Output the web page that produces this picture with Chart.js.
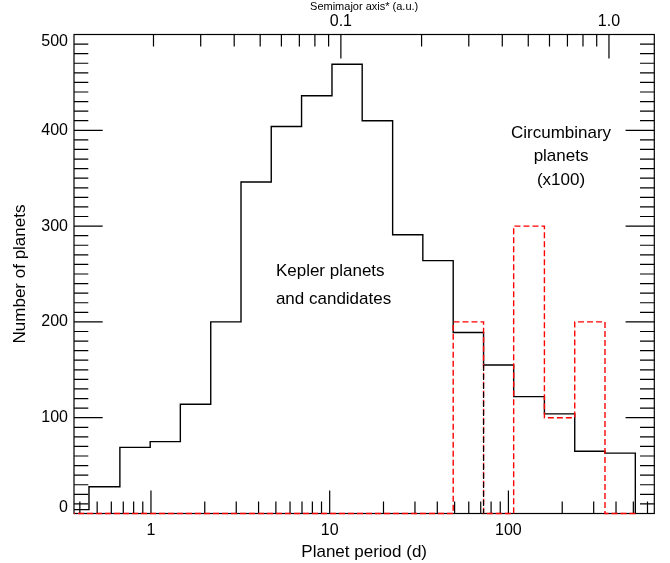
<!DOCTYPE html>
<html>
<head>
<meta charset="utf-8">
<script src="https://cdn.jsdelivr.net/npm/chart.js@4"></script>
<style>
  html, body { margin: 0; padding: 0; background: #fff; }
  #chart { display: block; }
</style>
</head>
<body>
<canvas id="chart" width="670" height="563"></canvas>
<script>
// histogram bin edges, planet period in days
const binEdges = [0.31, 0.45, 0.67, 0.99, 1.46, 2.16, 3.19, 4.71, 6.96, 10.3, 15.2, 22.5, 33.2, 49.1, 72.6, 107, 159, 235, 347, 513];
// one count per bin
const keplerCounts = [4, 28, 69, 75, 114, 200, 346, 404, 436, 469, 410, 291, 264, 189, 155, 122, 104, 65, 63];
const circumbinaryCounts = [0, 0, 0, 0, 0, 0, 0, 0, 0, 0, 0, 0, 0, 2, 0, 3, 1, 2, 0];
const circumbinaryScale = 100;

const periodTicks = [1, 10, 100];
const periodMinorTicks = [0.4, 0.5, 0.6, 0.7, 0.8, 0.9, 2, 3, 4, 5, 6, 7, 8, 9, 20, 30, 40, 50, 60, 70, 80, 90, 200, 300, 400, 500, 600];
const auTicks = [0.1, 1.0];
const auMinorTicks = [0.02, 0.03, 0.04, 0.05, 0.06, 0.07, 0.08, 0.09, 0.2, 0.3, 0.4, 0.5, 0.6, 0.7, 0.8, 0.9];
const countTicks = [0, 100, 200, 300, 400, 500];

const periodMin = 0.371;
const periodMax = 655;
// Kepler's third law for a solar-mass host
const toAu = p => Math.pow(p / 365.25, 2 / 3);

const notes = [
  { lines: ["Kepler planets", "and candidates"], period: 5.0, count: 248, align: "left", spacing: 28 },
  { lines: ["Circumbinary", "planets", "(x100)"], period: 197, count: 392, align: "center", spacing: 23.5 },
];

const FONT = '"Liberation Sans", Arial, Helvetica, sans-serif';
Chart.defaults.font.family = FONT;
Chart.defaults.color = "#000";

const keplerPoints = binEdges.map((e, i) => ({ x: e, y: i < keplerCounts.length ? keplerCounts[i] : 0 }));
const cbPoints = binEdges.map((e, i) => ({ x: e, y: i < circumbinaryCounts.length ? circumbinaryCounts[i] * circumbinaryScale : 0 }));
// dashed drop under the step at the first circumbinary bin's right edge
const dropPoints = [{ x: binEdges[14], y: keplerCounts[14] }, { x: binEdges[14], y: 0 }];

const framePlugin = {
  id: "frame",
  beforeDatasetsDraw(chart) {
    const { ctx, chartArea: a, scales } = chart;
    const { x, x2, y } = scales;
    ctx.save();
    ctx.strokeStyle = "#000";
    ctx.lineWidth = 1.2;
    ctx.strokeRect(a.left, a.top, a.right - a.left, a.bottom - a.top);
    ctx.beginPath();
    const vTick = (px, y0, len) => { ctx.moveTo(px, y0); ctx.lineTo(px, y0 + len); };
    periodTicks.forEach(v => vTick(x.getPixelForValue(v), a.bottom, -23));
    periodMinorTicks.forEach(v => vTick(x.getPixelForValue(v), a.bottom, -12));
    auTicks.forEach(v => vTick(x2.getPixelForValue(v), a.top, 24));
    auMinorTicks.forEach(v => vTick(x2.getPixelForValue(v), a.top, 12));
    for (let v = 0; v <= 500; v += 10) {
      const py = y.getPixelForValue(v);
      const len = v % 100 === 0 ? 28.7 : 14.3;
      ctx.moveTo(a.left, py); ctx.lineTo(a.left + len, py);
      ctx.moveTo(a.right, py); ctx.lineTo(a.right - len, py);
    }
    ctx.stroke();
    ctx.restore();
  },
  afterDraw(chart) {
    const { ctx, chartArea: a, scales } = chart;
    const { x, y } = scales;
    ctx.save();
    ctx.fillStyle = "#000";
    ctx.font = "16px " + FONT;
    ctx.textAlign = "right";
    ctx.textBaseline = "middle";
    countTicks.forEach(v => {
      const py = Math.min(Math.max(y.getPixelForValue(v), a.top + 6.7), a.bottom - 6);
      ctx.fillText(String(v), a.left - 6, py);
    });
    ctx.font = "17px " + FONT;
    ctx.textBaseline = "alphabetic";
    notes.forEach(n => {
      ctx.textAlign = n.align;
      const px = x.getPixelForValue(n.period);
      const py = y.getPixelForValue(n.count);
      n.lines.forEach((t, i) => ctx.fillText(t, px, py + i * n.spacing));
    });
    ctx.restore();
  },
};

const ctx = document.querySelector("#chart");

new Chart(ctx, {
  type: "line",
  data: {
    datasets: [
      {
        label: "Circumbinary planets (x100)",
        data: cbPoints,
        stepped: true,
        borderColor: "rgb(255, 0, 0)",
        borderWidth: 1.4,
        borderDash: [6, 3],
        pointRadius: 0,
        fill: false,
        order: 1,
        clip: { left: 0, right: 0, top: 4, bottom: 4 },
      },
      {
        label: "Kepler planets and candidates",
        data: keplerPoints,
        stepped: true,
        borderColor: "#000",
        borderWidth: 1.4,
        pointRadius: 0,
        fill: false,
        order: 2,
        clip: { left: 0, right: 0, top: 4, bottom: 4 },
      },
      {
        label: "drop",
        data: dropPoints,
        borderColor: "#000",
        borderWidth: 1.2,
        borderDash: [6, 3],
        pointRadius: 0,
        fill: false,
        order: 0,
        clip: { left: 0, right: 0, top: 4, bottom: 4 },
      },
    ],
  },
  options: {
    responsive: false,
    animation: false,
    events: [],
    layout: { padding: { left: 0, right: 15.7, top: 0, bottom: 0 } },
    plugins: {
      legend: { display: false },
      tooltip: { enabled: false },
    },
    scales: {
      x: {
        type: "logarithmic",
        position: "bottom",
        min: periodMin,
        max: periodMax,
        grid: { display: false, drawTicks: false },
        border: { display: false },
        afterBuildTicks: s => { s.ticks = periodTicks.map(v => ({ value: v })); },
        ticks: { callback: v => String(v), font: { size: 16 }, padding: 7, maxRotation: 0, autoSkip: false },
        title: { display: true, text: "Planet period (d)", font: { size: 17 }, padding: { top: 4.8, bottom: 0 } },
        afterFit: s => { s.height = 49.5; },
      },
      x2: {
        type: "logarithmic",
        position: "top",
        min: toAu(periodMin),
        max: toAu(periodMax),
        grid: { display: false, drawTicks: false },
        border: { display: false },
        afterBuildTicks: s => { s.ticks = auTicks.map(v => ({ value: v })); },
        ticks: { callback: v => v.toFixed(1), font: { size: 16 }, padding: 3, maxRotation: 0, autoSkip: false },
        title: { display: true, text: "Semimajor axis* (a.u.)", font: { size: 11 }, padding: { top: 0.6, bottom: 0 } },
        afterFit: s => { s.height = 34.5; },
      },
      y: {
        min: 0,
        max: 500,
        grid: { display: false, drawTicks: false },
        border: { display: false },
        ticks: { display: false, stepSize: 100 },
        title: { display: true, text: "Number of planets", font: { size: 17 }, padding: { top: 10, bottom: 0 } },
        afterFit: s => { s.width = 74; },
      },
    },
  },
  plugins: [framePlugin],
});
</script>
</body>
</html>
